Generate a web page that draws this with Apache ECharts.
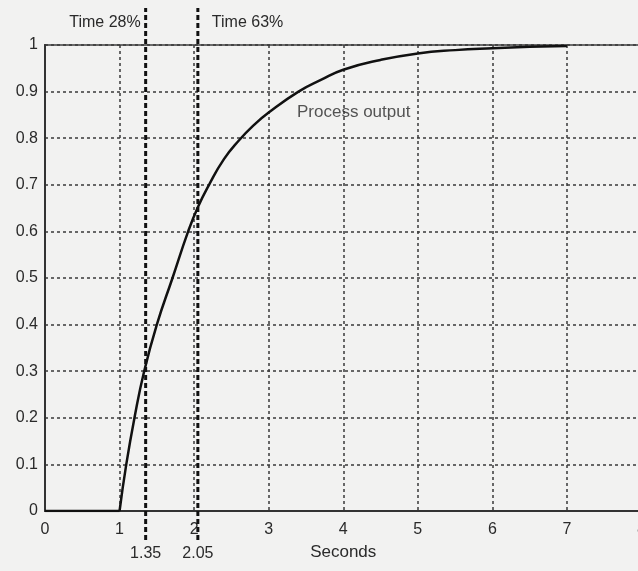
<!DOCTYPE html>
<html>
<head>
<meta charset="utf-8">
<script src="https://cdn.jsdelivr.net/npm/echarts@6/dist/echarts.min.js"></script>
<style>
html,body{margin:0;padding:0;background:#f2f2f1;}
#chart{width:638px;height:571px;}
</style>
</head>
<body>
<div id="chart"></div>
<script>
// Process output step response
const timeValues   = [0, 1, 1.09, 1.2, 1.33, 1.5, 1.71, 1.92, 2.05, 2.2, 2.4, 2.6, 2.8, 3, 3.4, 3.7, 4, 4.5, 5, 5.5, 6, 6.5, 7];
const outputValues = [0, 0, 0.1, 0.2, 0.3, 0.4, 0.5, 0.6, 0.652, 0.7, 0.755, 0.795, 0.828, 0.855, 0.9, 0.925, 0.947, 0.968, 0.982, 0.989, 0.993, 0.996, 0.998];
// Vertical marker lines
const markerTimes  = [1.35, 2.05];
const markerLabels = ['1.35', '2.05'];
const markerTitles = ['Time 28%', 'Time 63%'];
// Annotation
const annotationText = 'Process output';
const annotationPos  = [3.38, 0.855];
// Axis
const xTicks = [0, 1, 2, 3, 4, 5, 6, 7, 8];
const xName = 'Seconds';

const FONT = '"Liberation Sans", Arial, sans-serif';
const TXT = '#2a2a2a';
const L = 45, W = 596.5;

const curve = timeValues.map((t, i) => [t, outputValues[i]]);
const deadTime = curve.slice(0, 2);
const rise = curve.slice(1);

const markerSeries = markerTimes.map((t, i) => ({
  type: 'line',
  xAxisIndex: 1, yAxisIndex: 1,
  symbol: 'circle', symbolSize: 0, showSymbol: true,
  silent: true,
  z: 5,
  lineStyle: {color: '#111', width: 3, type: [5, 3]},
  data: [
    {value: [t, 0], label: {show: true, formatter: markerLabels[i], position: 'bottom', distance: 6,
      color: TXT, fontFamily: FONT, fontSize: 16}},
    {value: [t, 1], label: {show: true, formatter: markerTitles[i],
      position: i === 0 ? 'left' : 'right', distance: i === 0 ? 5 : 14, offset: [0, 15],
      color: TXT, fontFamily: FONT, fontSize: 16}}
  ]
}));

const option = {
  animation: false,
  backgroundColor: '#f2f2f1',
  grid: [
    {left: L, width: W, top: 45, height: 466, outerBoundsMode: 'none', containLabel: false,
      show: true, borderColor: '#6a6a6a', borderWidth: 2, backgroundColor: 'transparent'},
    {left: L, width: W, top: 8, height: 532, outerBoundsMode: 'none', containLabel: false}
  ],
  xAxis: [
    {type: 'value', gridIndex: 0, min: 0, max: 8, interval: 1,
      name: xName, nameLocation: 'middle', nameGap: 33,
      nameTextStyle: {color: TXT, fontFamily: FONT, fontSize: 17},
      axisLine: {show: true, onZero: false, lineStyle: {color: '#333', width: 2}},
      axisTick: {show: false},
      axisLabel: {color: TXT, fontFamily: FONT, fontSize: 16, margin: 11,
        formatter: v => xTicks.includes(v) ? String(v) : ''},
      splitLine: {show: true, lineStyle: {color: '#3a3a3a', width: 1.5, type: [3, 3]}}
    },
    {type: 'value', gridIndex: 1, min: 0, max: 8, show: false}
  ],
  yAxis: [
    {type: 'value', gridIndex: 0, min: 0, max: 1, interval: 0.1,
      axisLine: {show: true, onZero: false, lineStyle: {color: '#333', width: 2}},
      axisTick: {show: false},
      axisLabel: {color: TXT, fontFamily: FONT, fontSize: 16, margin: 7,
        formatter: v => String(Math.round(v * 10) / 10)},
      splitLine: {show: true, lineStyle: {color: '#3a3a3a', width: 1.5, type: [3, 3]}}
    },
    {type: 'value', gridIndex: 1, min: 0, max: 1, show: false}
  ],
  series: [
    {type: 'line', xAxisIndex: 0, yAxisIndex: 0, data: deadTime, symbol: 'none', z: 6,
      lineStyle: {color: '#111', width: 2.5}},
    {type: 'line', xAxisIndex: 0, yAxisIndex: 0, data: rise, symbol: 'none',
      smooth: 0.5, z: 6,
      lineStyle: {color: '#111', width: 2.5}},
    {type: 'scatter', xAxisIndex: 0, yAxisIndex: 0, data: [annotationPos], symbolSize: 0, silent: true,
      label: {show: true, formatter: annotationText, position: 'right', distance: 0,
        color: TXT, fontFamily: FONT, fontSize: 17}},
    ...markerSeries
  ]
};

echarts.init(document.getElementById('chart'), null, {renderer: 'canvas'}).setOption(option);
</script>
</body>
</html>
